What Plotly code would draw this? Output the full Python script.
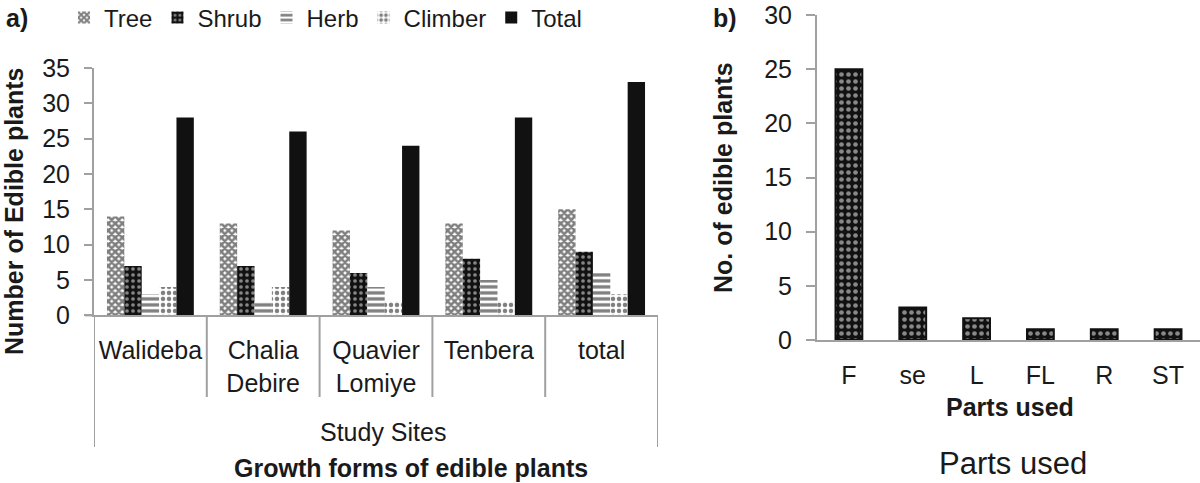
import plotly.graph_objects as go

# ---------------- data ----------------
sites = ["Walideba", "Chalia<br>Debire", "Quavier<br>Lomiye", "Tenbera", "total"]
tree = [14, 13, 12, 13, 15]
shrub = [7, 7, 6, 8, 9]
herb = [3, 2, 4, 5, 6]
climber = [4, 4, 2, 2, 3]
total = [28, 26, 24, 28, 33]

parts = ["F", "se", "L", "FL", "R", "ST"]
parts_count = [25, 3, 2, 1, 1, 1]

yticks_a = [0, 5, 10, 15, 20, 25, 30, 35]
yticks_b = [0, 5, 10, 15, 20, 25, 30]

# ---------------- styling ----------------
W, H = 1200, 483
FONT = "Liberation Sans, Arial, sans-serif"
TXT = "#1a1a1a"
AX = "#a0a0a0"
FS = 25


def px_x(p):
    return p / W


def px_y(p):
    return 1 - p / H


series = [
    ("Tree", tree, dict(color="white", pattern=dict(shape="x", fgcolor="#000", bgcolor="white", size=5, solidity=0.75))),
    ("Shrub", shrub, dict(color="#111", pattern=dict(shape=".", fgcolor="white", bgcolor="#111", size=6, solidity=0.3))),
    ("Herb", herb, dict(color="white", pattern=dict(shape="-", fgcolor="#000", bgcolor="white", size=6, solidity=0.55))),
    ("Climber", climber, dict(color="white", pattern=dict(shape=".", fgcolor="#000", bgcolor="white", size=6, solidity=0.45))),
    ("Total", total, dict(color="#111")),
]

fig = go.Figure()
for name, vals, mk in series:
    fig.add_trace(go.Bar(x=sites, y=vals, name=name, xaxis="x", yaxis="y",
                         marker=dict(line=dict(width=0), **mk)))

fig.add_trace(go.Bar(x=parts, y=parts_count, xaxis="x2", yaxis="y2", showlegend=False,
                     width=0.42,
                     marker=dict(color="#111",
                                 pattern=dict(shape=".", fgcolor="white", bgcolor="#111", size=7, solidity=0.35),
                                 line=dict(color="#111", width=2))))

y0a, y35a = 315.4, 67.9
y0b, y30b = 340, 15
xa0, xa1 = 94, 658
xb0 = 817

axis_common = dict(showline=True, linecolor=AX, linewidth=2, showgrid=False, zeroline=False,
                   automargin=False, tickfont=dict(family=FONT, size=FS, color=TXT))

fig.update_layout(
    width=W, height=H, margin=dict(l=0, r=0, t=0, b=0, autoexpand=False),
    paper_bgcolor="white", plot_bgcolor="white",
    barmode="group", bargap=0.23, bargroupgap=0,
    font=dict(family=FONT, size=FS, color=TXT),
    showlegend=True,
    legend=dict(orientation="h", x=px_x(64), xanchor="left", y=px_y(18), yanchor="middle",
                font=dict(family=FONT, size=24, color=TXT), bgcolor="rgba(0,0,0,0)",
                traceorder="normal"),
    xaxis=dict(domain=[px_x(xa0), px_x(xa1)], anchor="y", range=[-0.5, 4.5], ticks="",
               ticklabelstandoff=12, **axis_common),
    yaxis=dict(domain=[px_y(y0a), px_y(y35a)], anchor="x", range=[0, 35], tickvals=yticks_a,
               ticks="outside", ticklen=8, tickwidth=2, tickcolor=AX, ticklabelstandoff=9,
               **axis_common),
    xaxis2=dict(domain=[px_x(xb0), 1.0], anchor="y2", range=[-0.5, 5.5], ticks="",
                ticklabelstandoff=12, **axis_common),
    yaxis2=dict(domain=[px_y(y0b), px_y(y30b)], anchor="x2", range=[0, 30], tickvals=yticks_b,
                ticks="outside", ticklen=9, tickwidth=2, tickcolor=AX, ticklabelstandoff=9,
                **axis_common),
)

# dividers of the category axis (panel a)
shapes = []
for i in range(len(sites) + 1):
    outer = i == 0 or i == len(sites)
    shapes.append(dict(type="line", xref="x", yref="paper", x0=i - 0.5, x1=i - 0.5,
                       y0=px_y(y0a), y1=px_y(447 if outer else 397),
                       line=dict(color=AX, width=2)))
# small axis-line extensions left of the y axes
shapes.append(dict(type="line", xref="paper", yref="paper", x0=px_x(85), x1=px_x(xa0),
                   y0=px_y(y0a), y1=px_y(y0a), line=dict(color=AX, width=2)))
shapes.append(dict(type="line", xref="paper", yref="paper", x0=px_x(809), x1=px_x(xb0),
                   y0=px_y(y0b), y1=px_y(y0b), line=dict(color=AX, width=2)))
fig.update_layout(shapes=shapes)

ann = [
    dict(text="<b>a)</b>", x=px_x(17), y=px_y(18), size=FS),
    dict(text="<b>b)</b>", x=px_x(725), y=px_y(18), size=FS),
    dict(text="<b>Number of Edible plants</b>", x=px_x(14), y=px_y(211), size=FS, angle=-90),
    dict(text="<b>No. of edible plants</b>", x=px_x(723), y=px_y(178), size=FS, angle=-90),
    dict(text="Study Sites", x=px_x(383), y=px_y(432), size=FS),
    dict(text="<b>Growth forms of edible plants</b>", x=px_x(411), y=px_y(468), size=FS),
    dict(text="<b>Parts used</b>", x=px_x(1010), y=px_y(407), size=FS),
    dict(text="Parts used", x=px_x(1013), y=px_y(463), size=31),
]
for a in ann:
    fig.add_annotation(text=a["text"], x=a["x"], y=a["y"], xref="paper", yref="paper",
                       xanchor="center", yanchor="middle", showarrow=False,
                       textangle=a.get("angle", 0),
                       font=dict(family=FONT, size=a["size"], color=TXT))

fig.write_html("out.html", config={"displayModeBar": False},
               post_script="document.body.style.margin='0';")
